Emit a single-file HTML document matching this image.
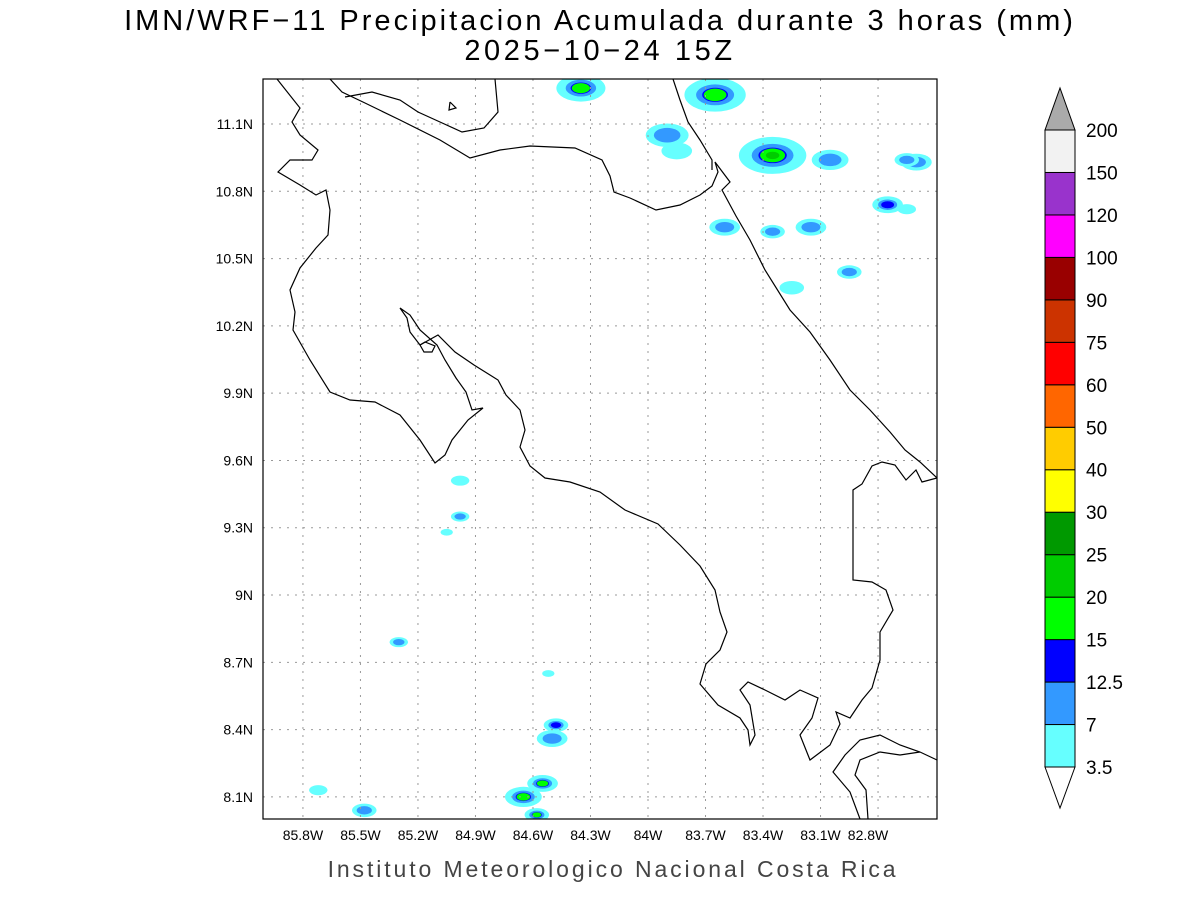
<!DOCTYPE html>
<html><head><meta charset="utf-8"><style>
body{margin:0;background:#fff;}
svg text{font-family:"Liberation Sans","DejaVu Sans",sans-serif;}
</style></head><body>
<svg id="chart" width="1200" height="900" viewBox="0 0 1200 900">
<rect width="1200" height="900" fill="#fff"/>
<text x="600" y="30" text-anchor="middle" font-size="29" letter-spacing="3.0" fill="#000">IMN/WRF−11 Precipitacion Acumulada durante 3 horas (mm)</text>
<text x="600" y="60" text-anchor="middle" font-size="29" letter-spacing="3.6" fill="#000">2025−10−24 15Z</text>
<defs><clipPath id="pc"><rect x="263" y="79" width="674" height="740"/></clipPath></defs>
<g id="precip" clip-path="url(#pc)"></g>
<g id="grid"></g>
<g clip-path="url(#pc)" fill="none" stroke="#000" stroke-width="1.2">
<polyline points="277,79 300,108 292,122 300,135 318,150 312,160 290,160 278,172 300,185 316,195 326,190 330,210 328,235 316,248 300,268 290,290 295,312 293,330 310,360 330,392 350,400 375,402 400,415 420,440 435,463 445,455 452,440 468,420 483,408 472,410 466,392 456,378 445,360 437,345 420,330 410,315 400,308 407,318 410,332 420,345 438,335 455,352 474,365 490,375 498,380 506,395 520,410 525,430 520,447 530,466 545,478 570,482 600,492 625,510 658,524 680,545 700,566 715,590 720,612 727,632 720,650 706,664 700,684 718,705 740,718 748,730 750,745 755,735 750,705 740,690 748,682 765,690 785,700 800,690 818,698 812,718 800,735 810,760 830,745 840,724 836,712 850,718 862,700 872,688 880,660 880,632 893,610 886,590 872,582 853,580 853,490 862,484 872,466 882,462 895,465 906,480 916,470 922,482 937,478"/>
<polyline points="330,79 342,92 365,103 400,120 440,140 470,158 500,150 530,146 575,148 602,160 610,176 614,192 630,198 656,210 680,205 700,195 712,186 718,172 715,162 730,182 722,190 736,216 750,240 765,270 790,310 810,332 830,360 850,390 870,410 890,432 905,450 920,462 937,478"/>
<polyline points="673,79 680,100 688,122 700,140 712,160 712,170"/>
<polyline points="495,79 498,112 484,128 462,132 440,122 418,112 400,100 372,92 345,97"/>
<polyline points="937,760 920,752 900,745 880,735 860,740 845,755 833,772 850,792 860,819"/>
<polyline points="868,819 866,790 855,775 860,760 880,752 900,755 920,752"/>
<polyline points="420,345 425,342 435,346 432,352 424,352 420,345"/>
<polyline points="450,102 456,108 449,110 450,102"/>
</g>
<rect x="263" y="79" width="674" height="740" fill="none" stroke="#000" stroke-width="1.2"/>
<g id="axes" font-size="14"></g>
<text x="613" y="877" text-anchor="middle" font-size="23" fill="#444" letter-spacing="2.9">Instituto Meteorologico Nacional Costa Rica</text>
<g id="cbar"></g>
</svg>
<script>
const NS="http://www.w3.org/2000/svg";
const lonTicks=[-85.8,-85.5,-85.2,-84.9,-84.6,-84.3,-84,-83.7,-83.4,-83.1,-82.8];
const lonLabels=["85.8W","85.5W","85.2W","84.9W","84.6W","84.3W","84W","83.7W","83.4W","83.1W","82.8W"];
const latTicks=[11.1,10.8,10.5,10.2,9.9,9.6,9.3,9.0,8.7,8.4,8.1];
const latLabels=["11.1N","10.8N","10.5N","10.2N","9.9N","9.6N","9.3N","9N","8.7N","8.4N","8.1N"];
const levels=["3.5","7","12.5","15","20","25","30","40","50","60","75","90","100","120","150","200"];
const colors=["#66ffff","#3399ff","#0000ff","#00ff00","#00cc00","#009900","#ffff00","#ffcc00","#ff6600","#ff0000","#cc3300","#990000","#ff00ff","#9933cc","#f2f2f2"];
// precipitation cells: lon, lat, size(deg), max class index
const cellLon=[-83.35,-83.65,-84.35,-83.9,-83.05,-82.75,-82.6,-83.6,-83.35,-83.15,-82.95,-83.25,-84.55,-84.48,-84.5,-84.65,-85.48,-85.3,-85.72,-84.98,-85.05,-84.98,-84.52,-84.58,-83.85,-82.65,-82.65];
const cellLat=[10.96,11.23,11.26,11.05,10.94,10.74,10.93,10.64,10.62,10.64,10.44,10.37,8.16,8.42,8.36,8.10,8.04,8.79,8.13,9.51,9.28,9.35,8.65,8.02,10.98,10.72,10.94];
const cellSize=[0.11,0.1,0.08,0.07,0.06,0.05,0.05,0.05,0.04,0.05,0.04,0.04,0.05,0.04,0.05,0.06,0.04,0.03,0.03,0.03,0.02,0.03,0.02,0.04,0.05,0.03,0.04];
const cellMax=[4,3,3,1,1,2,1,1,1,1,1,0,3,2,1,3,1,1,0,0,0,1,0,3,0,0,1];
const layerScale=[1,0.62,0.42,0.37,0.2];
const X=lon=>648+(lon+84)*191.7;
const Y=lat=>124+(11.1-lat)*224.3;
function el(t,a,p){const e=document.createElementNS(NS,t);for(const k in a)e.setAttribute(k,a[k]);p.appendChild(e);return e;}
const grid=document.getElementById('grid'),axes=document.getElementById('axes');
lonTicks.forEach((v,i)=>{
 const l=el('line',{x1:X(v),x2:X(v),y1:79,y2:819,stroke:'#999','stroke-dasharray':'2,6'},grid);
 
 
 const t=el('text',{x:X(v)-(i==lonTicks.length-1?10:0),y:840,'text-anchor':'middle'},axes);t.textContent=lonLabels[i];
 
 
});
latTicks.forEach((v,i)=>{
 const l=el('line',{x1:263,x2:937,y1:Y(v),y2:Y(v),stroke:'#999','stroke-dasharray':'2,6'},grid);
 
 
 const t=el('text',{x:253,y:Y(v)+5,'text-anchor':'end'},axes);t.textContent=latLabels[i];
 
 
});
const pg=document.getElementById('precip');
cellLon.forEach((lon,i)=>{
 const n=cellMax[i]+1;
 for(let k=0;k<n;k++){
  const f=layerScale[k];
  const e=el('ellipse',{cx:X(lon),cy:Y(cellLat[i]),rx:cellSize[i]*191.7*1.6*f,ry:cellSize[i]*224.3*0.75*f,fill:colors[k]},pg);
  
  
 }
});
const cb=document.getElementById('cbar');
const cbx=1045,cbw=30,cbTop=130,cbBot=767,bh=(cbBot-cbTop)/colors.length;
colors.forEach((c,i)=>{
 const r=el('rect',{x:cbx,y:cbBot-(i+1)*bh,width:cbw,height:bh,fill:c,stroke:'#000','stroke-width':1},cb);
 
 
});
const up=el('polygon',{points:`${cbx},${cbTop} ${cbx+cbw/2},88 ${cbx+cbw},${cbTop}`,fill:'#aaa',stroke:'#000'},cb);


const dn=el('polygon',{points:`${cbx},${cbBot} ${cbx+cbw/2},808 ${cbx+cbw},${cbBot}`,fill:'#fff',stroke:'#000'},cb);


levels.forEach((s,i)=>{
 const t=el('text',{x:1086,y:cbBot-i*bh+7,'font-size':19},cb);t.textContent=s;
 
 
});
</script>
</body></html>
